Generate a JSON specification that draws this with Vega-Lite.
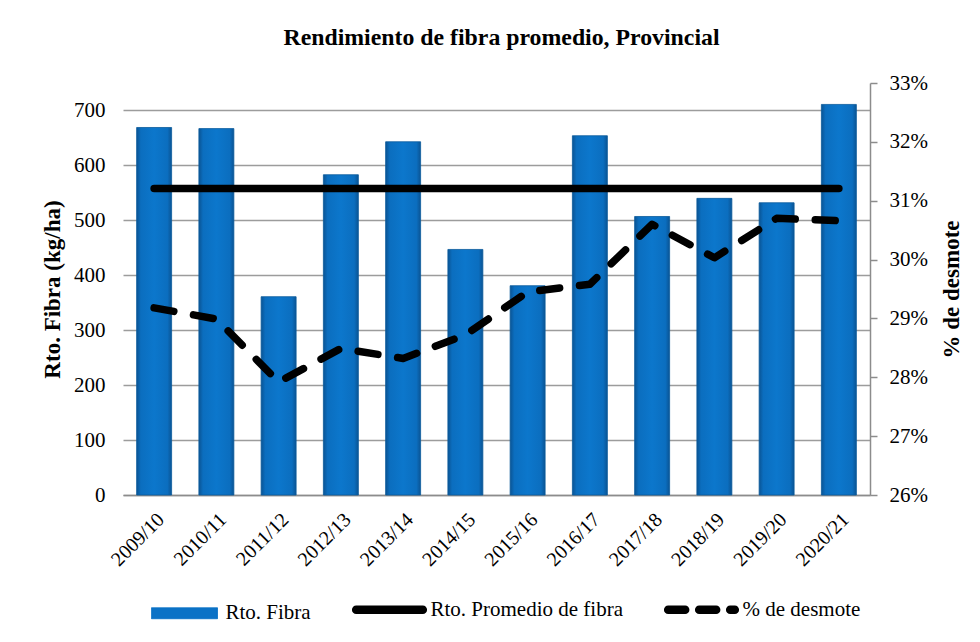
{
  "$schema": "https://vega.github.io/schema/vega-lite/v6.json",
  "autosize": {"type": "none"},
  "width": 747,
  "height": 412,
  "padding": {"left": 123, "top": 83, "right": 110, "bottom": 147},
  "background": "white",
  "title": {
    "text": "Rendimiento de fibra promedio, Provincial",
    "font": "Liberation Serif",
    "fontSize": 23.8,
    "fontWeight": "bold",
    "color": "black",
    "anchor": "middle",
    "dx": 5,
    "offset": 22
  },
  "data": {
    "values": [
      {"year": "2009/10", "fibra": 669, "prom": 558, "desmote": 0.2918},
      {"year": "2010/11", "fibra": 667, "prom": 558, "desmote": 0.2899},
      {"year": "2011/12", "fibra": 361, "prom": 558, "desmote": 0.2792},
      {"year": "2012/13", "fibra": 583, "prom": 558, "desmote": 0.2849},
      {"year": "2013/14", "fibra": 643, "prom": 558, "desmote": 0.2832},
      {"year": "2014/15", "fibra": 447, "prom": 558, "desmote": 0.2872},
      {"year": "2015/16", "fibra": 381, "prom": 558, "desmote": 0.2945},
      {"year": "2016/17", "fibra": 654, "prom": 558, "desmote": 0.2958},
      {"year": "2017/18", "fibra": 507, "prom": 558, "desmote": 0.3060},
      {"year": "2018/19", "fibra": 540, "prom": 558, "desmote": 0.3003},
      {"year": "2019/20", "fibra": 532, "prom": 558, "desmote": 0.3070},
      {"year": "2020/21", "fibra": 711, "prom": 558, "desmote": 0.3066}
    ]
  },
  "encoding": {
    "x": {
      "field": "year",
      "type": "nominal",
      "sort": null,
      "scale": {"paddingInner": 0.438, "paddingOuter": 0.219},
      "axis": {
        "title": null,
        "labelAngle": -45,
        "labelFont": "Liberation Serif",
        "labelFontSize": 20,
        "labelColor": "black",
        "labelPadding": 14,
        "ticks": false,
        "domainColor": "#8c8c8c",
        "domainWidth": 1.5,
        "grid": false,
        "encode": {"labels": {"update": {"font": {"value": "Liberation Serif"}, "fontSize": {"value": 20}}}}
      }
    }
  },
  "layer": [
    {
      "layer": [
        {
          "mark": {
            "type": "bar",
            "fill": {
              "gradient": "linear",
              "x1": 0, "y1": 0, "x2": 1, "y2": 0,
              "stops": [
                {"offset": 0, "color": "#0a5494"},
                {"offset": 0.12, "color": "#0b6ebf"},
                {"offset": 0.5, "color": "#0c77cc"},
                {"offset": 0.88, "color": "#0b6ebf"},
                {"offset": 1, "color": "#0a5494"}
              ]
            },
            "stroke": "#0a5a9c",
            "strokeWidth": 0.8
          },
          "encoding": {
            "y": {
              "field": "fibra",
              "type": "quantitative",
              "title": "Rto. Fibra (kg/ha)",
              "scale": {"domain": [0, 750], "nice": false},
              "axis": {
                "values": [0, 100, 200, 300, 400, 500, 600, 700],
                "grid": true,
                "gridColor": "#9c9c9c",
                "gridWidth": 1.3,
                "domain": false,
                "ticks": false,
                "labelFont": "Liberation Serif",
                "labelFontSize": 21,
                "labelColor": "black",
                "labelPadding": 18,
                "titleFont": "Liberation Serif",
                "titleFontSize": 23,
                "titleFontWeight": "bold",
                "titleColor": "black",
                "titlePadding": 9,
                "encode": {"labels": {"update": {"font": {"value": "Liberation Serif"}, "fontSize": {"value": 21}}}}
              }
            }
          }
        },
        {
          "mark": {"type": "line", "strokeWidth": 7.5, "strokeCap": "round"},
          "encoding": {
            "y": {"field": "prom", "type": "quantitative", "title": "Rto. Fibra (kg/ha)"},
            "color": {"datum": "Rto. Promedio de fibra"}
          }
        }
      ]
    },
    {
      "mark": {"type": "line", "strokeWidth": 7.5, "strokeCap": "round", "strokeJoin": "round", "strokeDash": [20, 20]},
      "encoding": {
        "y": {
          "field": "desmote",
          "type": "quantitative",
          "title": "% de desmote",
          "scale": {"domain": [0.26, 0.33], "nice": false},
          "axis": {
            "orient": "right",
            "values": [0.26, 0.27, 0.28, 0.29, 0.30, 0.31, 0.32, 0.33],
            "format": ".0%",
            "grid": false,
            "domain": true,
            "domainColor": "#8c8c8c",
            "domainWidth": 1.5,
            "ticks": true,
            "tickColor": "#8c8c8c",
            "tickWidth": 1.5,
            "tickSize": 7,
            "labelFont": "Liberation Serif",
            "labelFontSize": 21,
            "labelColor": "black",
            "labelPadding": 12,
            "titleFont": "Liberation Serif",
            "titleFontSize": 23,
            "titleFontWeight": "bold",
            "titleColor": "black",
            "titleAngle": 270,
            "titleBaseline": "middle",
            "titleAlign": "center",
            "titleX": 81,
            "titleY": 206,
            "encode": {"labels": {"update": {"font": {"value": "Liberation Serif"}, "fontSize": {"value": 21}, "dx": {"value": 15}}}}
          }
        },
        "color": {
          "datum": "% de desmote",
          "scale": {
            "domain": ["Rto. Fibra", "Rto. Promedio de fibra", "% de desmote"],
            "range": ["#0b72c6", "black", "black"]
          },
          "legend": {
            "title": null,
            "orient": "none",
            "direction": "horizontal",
            "legendX": 51,
            "legendY": 516,
            "symbolSize": 4624,
            "labelOffset": 30.5,
            "columnPadding": 28,
            "labelLimit": 400,
            "labelFont": "Liberation Serif",
            "labelFontSize": 21,
            "labelColor": "black",
            "encode": {
              "symbols": {
                "update": {
                  "shape": {"signal": "datum.value === 'Rto. Fibra' ? 'M-0.97,-0.16H0.97V0.16H-0.97Z' : 'M-0.98,0H0.98'"},
                  "size": {"value": 4624},
                  "strokeWidth": {"signal": "datum.value === 'Rto. Fibra' ? 1 : 8.5"},
                  "strokeDash": {"signal": "datum.value === '% de desmote' ? [17, 14] : [1, 0]"},
                  "strokeCap": {"signal": "datum.value === 'Rto. Fibra' ? 'butt' : 'round'"},
                  "fill": {"signal": "datum.value === 'Rto. Fibra' ? '#0b72c6' : 'transparent'"},
                  "stroke": {"signal": "datum.value === 'Rto. Fibra' ? '#0a5494' : 'black'"},
                  "opacity": {"value": 1}
                }
              }
            }
          }
        }
      }
    }
  ],
  "resolve": {"scale": {"y": "independent"}},
  "config": {
    "view": {"stroke": null},
    "font": "Liberation Serif",
    "axis": {"labelFont": "Liberation Serif", "titleFont": "Liberation Serif", "labelColor": "black"},
    "axisRight": {"labelPadding": 12, "labelFontSize": 21, "tickSize": 7},
    "legend": {"labelFont": "Liberation Serif", "symbolSize": 4624},
    "style": {"guide-label": {"font": "Liberation Serif"}, "guide-title": {"font": "Liberation Serif"}}
  }
}
